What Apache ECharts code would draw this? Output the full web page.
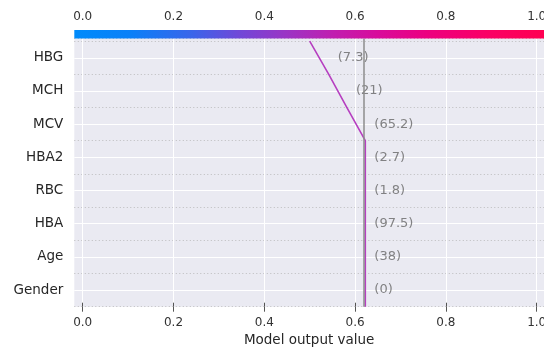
<!DOCTYPE html>
<html>
<head>
<meta charset="utf-8">
<script src="https://cdn.jsdelivr.net/npm/echarts@6/dist/echarts.min.js"></script>
<style>html,body{margin:0;padding:0;background:#fff}#c{width:544px;height:351px}</style>
</head>
<body>
<div id="c"></div>
<script>
// Features, bottom to top
const categories = ['Gender', 'Age', 'HBA', 'RBC', 'HBA2', 'MCV', 'MCH', 'HBG'];
const featureValues = [0, 38, 97.5, 1.8, 2.7, 65.2, 21, 7.3];
// SHAP contributions (bottom to top) and base value
const baseValue = 0.6225;
const contributions = [0, 0, 0, 0, 0, -0.0405, -0.040, -0.042];
const xTicks = [0.0, 0.2, 0.4, 0.6, 0.8, 1.0];
const xMin = -0.0185, xMax = 1.0161;
const yMax = 8.08;

// cumulative path
const cum = [baseValue];
contributions.forEach(function (c, i) { cum.push(cum[i] + c); });
const linePts = cum.map(function (v, i) { return [v, i]; });
const textPts = categories.map(function (c, i) { return [Math.max(cum[i], cum[i + 1]), i + 0.5]; });
const yTickVals = categories.map(function (c, i) { return i + 0.5; });

const FONT = 'DejaVu Sans';
const G = { left: 74.3, right: 0, top: 38.5, bottom: 44.3 };

const chart = echarts.init(document.getElementById('c'), null, { renderer: 'canvas' });
const fmtX = function (v) { return (+v).toFixed(1); };

chart.setOption({
  animation: false,
  backgroundColor: '#ffffff',
  grid: { left: G.left, right: G.right, top: G.top, bottom: G.bottom, show: true, backgroundColor: '#eaeaf2', borderWidth: 0,
    containLabel: false, outerBoundsMode: 'none' },
  xAxis: [{
    type: 'value', position: 'bottom', min: xMin, max: xMax,
    axisLine: { show: false },
    axisTick: { show: true, customValues: xTicks, length: 5, lineStyle: { color: '#555', width: 1 } },
    axisLabel: { customValues: xTicks, formatter: fmtX, margin: 10, fontSize: 12, color: '#333', fontFamily: FONT },
    splitLine: { show: true, lineStyle: { color: '#ffffff', width: 1 } },
    name: 'Model output value', nameLocation: 'middle', nameGap: 26,
    nameTextStyle: { fontSize: 13.5, color: '#262626', fontFamily: FONT }
  }, {
    type: 'value', position: 'top', offset: 8.5, min: xMin, max: xMax,
    axisLine: { show: false },
    axisTick: { show: true, customValues: xTicks, length: 4, lineStyle: { color: '#555', width: 1 } },
    axisLabel: { customValues: xTicks, formatter: fmtX, margin: 7, fontSize: 12, color: '#333', fontFamily: FONT },
    splitLine: { show: false }
  }],
  yAxis: [{
    type: 'value', min: 0, max: yMax,
    axisLine: { show: false },
    axisTick: { show: false, customValues: yTickVals },
    axisLabel: { customValues: yTickVals, margin: 11, fontSize: 13.5, color: '#262626', fontFamily: FONT,
      formatter: function (v) { return categories[Math.round(v - 0.5)]; } },
    splitLine: { show: true, lineStyle: { color: '#ffffff', width: 1 } }
  }, {
    type: 'value', min: 0, max: yMax, interval: 1, position: 'left',
    axisLine: { show: false }, axisTick: { show: false }, axisLabel: { show: false },
    splitLine: { show: true, lineStyle: { color: '#a8a8a8', width: 0.7, type: [1, 2.5] } }
  }],
  series: [{
    type: 'line', xAxisIndex: 0, yAxisIndex: 0, data: [], z: 2, silent: true,
    markLine: { silent: true, symbol: 'none', label: { show: false },
      lineStyle: { color: '#8c8c8c', width: 1.5, type: 'solid' },
      data: [{ xAxis: baseValue }] }
  }, {
    type: 'line', xAxisIndex: 0, yAxisIndex: 0, data: linePts, z: 3,
    symbol: 'none', lineStyle: { color: '#b63fc0', width: 1.6 }
  }, {
    type: 'scatter', xAxisIndex: 0, yAxisIndex: 0, data: textPts, symbolSize: 0, z: 4,
    label: { show: true, position: 'right', distance: 9, color: '#666666', fontSize: 13, fontFamily: FONT,
      formatter: function (p) { return '(' + featureValues[p.dataIndex] + ')'; } }
  }]
});

const W = chart.getWidth();
chart.setOption({
  graphic: [{
    type: 'rect', z: 100,
    shape: { x: G.left, y: 30, width: W - G.left - G.right, height: G.top - 30 },
    style: {
      fill: new echarts.graphic.LinearGradient(0, 0, 1, 0, [
        { offset: 0, color: '#008bfb' },
        { offset: 0.12, color: '#0a80f8' },
        { offset: 0.25, color: '#3a65ea' },
        { offset: 0.35, color: '#7048d8' },
        { offset: 0.45, color: '#9a35c5' },
        { offset: 0.55, color: '#c01eb0' },
        { offset: 0.65, color: '#d90b9a' },
        { offset: 0.75, color: '#ec0080' },
        { offset: 0.88, color: '#fa0065' },
        { offset: 1, color: '#ff0052' }
      ])
    }
  }]
});
</script>
</body>
</html>
